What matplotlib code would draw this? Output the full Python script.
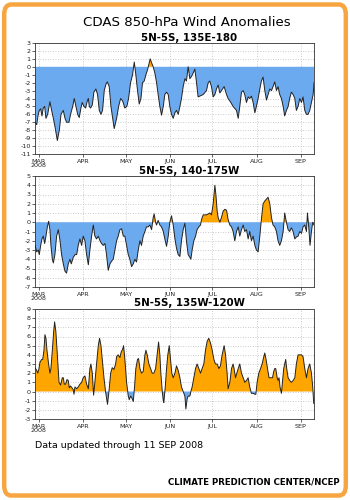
import datetime as dt
import numpy as np
import matplotlib
matplotlib.use("Agg")
import matplotlib.pyplot as plt
from matplotlib.patches import FancyBboxPatch

plt.rcParams['axes.unicode_minus'] = False
plt.rcParams['font.family'] = ['DejaVu Sans']

# ---------------- data (day offsets from 1 MAR 2008, anomaly m/s) ----------------
title = "CDAS 850-hPa Wind Anomalies"
subtitles = ["5N-5S, 135E-180", "5N-5S, 140-175W", "5N-5S, 135W-120W"]
month_labels = ["MAR\n2008", "APR", "MAY", "JUN", "JUL", "AUG", "SEP"]
month_numbers = [3, 4, 5, 6, 7, 8, 9]
x_range = (-2.8, 193.4)
y_ranges = [(-11, 3), (-7, 5), (-3, 9)]

p1_days = [-2.8, -1.6, -0.5, 0.2, 1.2, 2.1, 3.0, 4.0, 4.9, 6.1, 7.7, 8.9, 10.1, 11.2, 12.9,
           14.3, 15.5, 17.1, 18.3, 19.4, 21.1, 22.2, 23.7, 24.8, 26.0, 27.2, 28.3, 29.5,
           30.4, 31.6, 32.8, 34.0, 34.7, 35.4, 36.3, 37.5, 38.6, 40.0, 41.2, 42.4, 43.6,
           44.7, 45.9, 47.1, 48.0, 49.4, 50.6, 51.8, 52.9, 54.6, 56.0, 57.4, 58.8, 60.4,
           61.8, 63.0, 64.4, 65.8, 67.0, 68.1, 69.3, 70.5, 71.7, 72.8, 74.0, 75.2, 76.3,
           77.5, 78.2, 79.2, 80.3, 81.5, 82.7, 83.8, 85.0, 86.2, 87.4, 88.5, 89.7, 90.9,
           92.0, 93.2, 94.4, 95.6, 96.7, 97.9, 99.1, 100.2, 101.4, 102.6, 103.7, 104.9,
           106.1, 107.3, 108.4, 109.6, 110.8, 111.9, 113.1, 115.5, 117.8, 119.0, 120.1,
           121.3, 122.5, 123.7, 124.8, 126.0, 127.2, 128.3, 130.2, 131.9, 133.0, 134.9,
           136.5, 138.9, 140.1, 141.2, 142.4, 143.6, 144.7, 145.9, 147.1, 148.2, 149.4,
           150.6, 151.8, 152.9, 154.1, 155.3, 156.4, 157.6, 158.8, 160.0, 161.1, 162.3,
           163.5, 164.6, 165.8, 167.0, 168.1, 169.3, 170.5, 171.7, 172.8, 174.0, 175.2,
           176.3, 177.5, 178.7, 179.9, 181.0, 182.2, 183.4, 184.6, 185.7, 186.9, 188.1,
           189.2, 190.4, 191.6, 192.8, 193.4]
p1_vals = [-7.0, -7.3, -6.0, -5.5, -5.3, -6.2, -5.2, -5.0, -6.5, -6.0, -4.4, -5.5, -6.5, -7.5, -9.3,
           -8.0, -6.0, -5.5, -6.5, -7.0, -7.0, -6.0, -5.0, -4.0, -5.0, -6.0, -6.4, -5.2,
           -4.5, -5.0, -5.2, -4.3, -4.0, -5.0, -5.2, -4.8, -3.2, -2.8, -3.5, -5.5, -6.0,
           -5.5, -3.0, -2.2, -1.9, -2.5, -5.0, -6.5, -7.8, -6.5, -5.0, -4.0, -4.3, -5.2,
           -5.0, -4.0, -2.0, -1.0, 0.6, -1.0, -3.0, -4.7, -4.0, -2.0, -1.8, -1.0, -0.4,
           0.5, 1.0, 0.5, 0.0, -0.8, -2.0, -3.5, -5.0, -6.1, -5.0, -3.5, -3.2, -3.5,
           -5.0, -6.0, -6.5, -5.8, -5.5, -6.0, -5.0, -4.0, -2.5, -1.5, -1.8, 0.0,
           -1.5, -1.2, -0.8, -0.3, -2.0, -3.8, -3.7, -3.5, -3.0, -2.0, -1.8,
           -2.5, -3.8, -3.5, -2.8, -2.3, -3.3, -3.0, -2.5, -3.5, -4.0, -4.5,
           -5.0, -5.5, -6.5, -5.0, -3.2, -3.0, -3.5, -4.5, -3.8, -4.0, -3.7,
           -4.5, -5.8, -5.0, -4.0, -2.8, -1.8, -1.3, -3.0, -4.2, -3.5, -2.8,
           -3.0, -2.5, -1.9, -3.0, -2.5, -3.5, -4.0, -5.0, -6.2, -5.5, -5.0,
           -4.0, -3.2, -3.5, -4.0, -5.5, -5.0, -4.0, -4.5, -3.8, -5.5, -6.0,
           -6.0, -5.5, -4.5, -3.5, -2.0]

p2_days = [-2.8, -1.6, -0.5, 0.2, 1.2, 2.1, 3.0, 4.0, 4.9, 5.9, 6.8, 7.7, 8.4, 9.4, 10.1,
           11.2, 12.4, 13.6, 14.8, 15.9, 17.1, 18.3, 19.4, 20.6, 21.8, 22.7, 24.1, 25.3,
           26.5, 27.6, 28.8, 30.0, 31.1, 32.3, 33.5, 34.7, 35.8, 37.0, 38.2, 39.3, 40.5,
           41.7, 42.9, 44.0, 45.2, 46.4, 47.5, 48.7, 49.9, 51.1, 52.2, 53.4, 54.6, 55.7,
           56.9, 58.1, 59.3, 60.4, 61.6, 62.8, 63.9, 65.1, 66.3, 67.4, 68.6, 69.8, 71.0,
           72.1, 73.3, 74.5, 75.6, 76.8, 78.0, 79.2, 80.3, 81.0, 82.0, 82.7, 83.8, 85.0,
           86.2, 87.4, 88.5, 89.7, 90.9, 92.0, 93.2, 94.4, 95.6, 96.7, 97.9, 99.1, 100.2,
           101.4, 102.6, 103.7, 104.9, 106.1, 106.8, 107.7, 108.9, 110.1, 111.2, 112.4,
           113.6, 114.3, 115.5, 116.6, 117.8, 119.0, 120.1, 121.3, 122.5, 123.7, 124.4,
           125.3, 126.0, 127.2, 128.3, 129.5, 130.7, 131.9, 133.0, 134.2, 135.4, 136.5,
           137.7, 138.9, 140.1, 141.2, 142.4, 143.6, 144.7, 145.9, 147.1, 148.2, 149.4,
           150.6, 151.8, 152.9, 154.1, 155.3, 156.4, 157.6, 158.8, 160.0, 161.1, 162.3,
           163.5, 164.6, 165.8, 167.0, 168.1, 169.3, 170.5, 171.7, 172.8, 174.0, 175.2,
           176.3, 177.5, 178.7, 179.9, 181.0, 182.2, 183.4, 184.6, 185.7, 186.9, 188.1,
           188.8, 189.7, 190.6, 191.6, 192.5, 193.4]
p2_vals = [-2.5, -3.2, -3.0, -3.5, -2.5, -1.8, -1.5, -2.3, -1.5, -0.5, 0.1, -0.8, -2.5, -4.0, -4.4,
           -3.5, -1.5, -0.8, -2.0, -3.5, -4.5, -5.3, -5.5, -4.5, -4.0, -4.5, -3.8, -3.5,
           -3.5, -2.5, -1.8, -2.5, -1.5, -2.0, -3.5, -4.6, -3.0, -1.5, -0.3, -1.5, -1.8,
           -1.5, -2.0, -2.3, -2.5, -2.3, -3.5, -5.2, -4.5, -4.2, -4.0, -3.0, -2.0, -1.5,
           -0.8, -0.7, -1.5, -1.5, -2.5, -3.5, -4.0, -4.8, -4.5, -4.0, -4.3, -3.0, -2.0,
           -2.5, -1.5, -1.0, -0.5, -0.5, -0.3, -0.8, 0.5, 0.9, 0.0, -0.3, 0.2, -0.3,
           -0.5, -1.0, -1.8, -2.6, -1.5, 0.0, 0.7, -0.3, -1.8, -2.8, -3.5, -3.7, -2.0,
           -0.8, -0.1, -2.0, -3.5, -3.8, -4.0, -3.0, -2.0, -1.5, -0.8, -0.5,
           -0.3, 0.3, 0.8, 0.8, 0.8, 0.9, 1.0, 0.8, 2.0, 4.0, 3.0,
           1.2, 0.5, 0.0, 0.5, 1.2, 1.4, 1.3, 0.3, -0.3, -0.5, -1.0,
           -2.0, -1.0, -0.5, -1.5, -0.8, -0.3, -1.0, -0.8, -1.8, -1.0, -2.0,
           -1.5, -2.5, -3.0, -3.2, -1.5, 0.3, 2.0, 2.3, 2.5, 2.7, 2.0,
           0.5, -0.3, -0.5, -1.0, -2.0, -2.5, -2.0, -1.0, 1.0, 0.0, -0.8,
           -1.0, -0.6, -1.0, -1.8, -1.6, -1.5, -1.0, -1.2, -0.5, -0.3, -1.0,
           1.0, -0.5, -2.5, -1.0, 0.0, -0.3]

p3_days = [-2.8, -1.6, -0.9, 0.0, 0.7, 1.9, 2.6, 3.5, 4.2, 4.9, 5.6, 6.6, 7.7, 8.4, 9.4, 10.3,
           11.0, 11.9, 12.9, 14.1, 15.2, 16.4, 17.1, 17.8, 18.7, 19.7, 20.6, 21.3, 22.2,
           23.2, 24.1, 24.6, 25.3, 26.5, 27.6, 28.8, 30.0, 31.1, 32.3, 33.5, 34.7, 35.8,
           36.5, 37.5, 38.4, 39.3, 40.5, 41.7, 42.6, 43.6, 44.5, 45.7, 46.8, 47.8, 48.2,
           49.2, 50.4, 51.5, 52.7, 53.9, 54.6, 55.7, 56.9, 57.8, 58.8, 59.5, 60.4, 61.6,
           62.8, 63.5, 64.4, 65.3, 66.3, 67.2, 68.1, 69.3, 70.0, 71.0, 72.1, 73.3, 74.5,
           75.2, 76.1, 77.3, 78.5, 79.6, 80.8, 82.0, 83.1, 84.1, 85.0, 85.7, 86.7, 87.4,
           87.8, 88.8, 89.7, 90.6, 91.6, 92.5, 93.4, 94.4, 95.6, 96.7, 97.9, 99.1, 100.2,
           101.4, 102.6, 103.3, 104.2, 104.9, 106.1, 106.8, 107.7, 108.9, 110.1, 111.2,
           112.4, 113.6, 114.7, 115.9, 117.1, 118.3, 119.4, 120.6, 121.8, 123.0, 124.1,
           125.3, 126.5, 127.6, 128.8, 130.2, 131.2, 132.3, 133.0, 134.2, 135.4, 136.5,
           137.2, 138.2, 139.1, 140.1, 141.2, 142.4, 143.6, 144.7, 145.9, 147.1, 148.2,
           149.4, 150.6, 151.8, 152.5, 153.4, 154.6, 155.8, 156.9, 158.1, 158.8, 159.7,
           160.7, 161.8, 163.0, 164.2, 165.1, 165.8, 166.5, 167.5, 168.1, 168.8, 169.5,
           170.5, 171.2, 172.1, 172.8, 173.5, 174.2, 175.2, 176.3, 177.5, 178.7, 179.9,
           181.0, 182.2, 183.4, 184.6, 185.7, 186.9, 188.1, 189.2, 190.4, 191.6, 192.5,
           193.2]
p3_vals = [2.6, 2.3, 2.0, 2.5, 3.2, 3.5, 3.5, 4.5, 6.2, 5.8, 4.5, 3.2, 2.0, 2.5, 4.5, 6.5,
           7.6, 6.5, 4.0, 1.0, 0.7, 1.5, 1.5, 0.8, 0.8, 1.3, 1.2, 0.4, 0.6,
           0.4, 0.2, -0.3, 0.5, 0.3, 0.5, 0.8, 1.0, 1.5, 1.7, 0.8, 0.3, 2.5,
           3.0, 2.0, -0.4, 1.0, 3.0, 5.0, 5.8, 5.0, 3.5, 1.5, 0.0, -1.0, -1.4,
           0.0, 2.0, 2.6, 2.4, 3.0, 3.8, 4.0, 3.7, 4.3, 4.6, 5.0, 3.5, 1.0,
           -0.5, -0.9, -0.5, -0.7, -1.1, 0.5, 2.5, 3.5, 3.6, 2.5, 2.0, 2.2, 4.0,
           4.5, 4.0, 3.0, 2.5, 2.0, 2.0, 2.5, 4.0, 5.4, 4.0, 2.0, 0.0, -1.0,
           -1.2, 0.5, 2.5, 4.0, 5.0, 3.5, 2.0, 1.5, 2.0, 2.8, 2.3, 1.5, 0.5,
           0.0, -0.5, -1.9, -0.8, -0.5, -0.5, 0.0, 0.5, 1.5, 2.5, 3.0,
           2.5, 2.0, 2.5, 3.0, 4.5, 5.5, 5.8, 5.3, 4.5, 3.5, 3.0,
           3.0, 2.5, 2.8, 4.0, 5.0, 4.0, 2.0, 0.3, 1.0, 2.5, 3.0,
           2.5, 1.5, 2.0, 2.5, 3.0, 2.0, 1.5, 1.0, 1.2, 1.5, 0.5,
           -0.2, -0.2, -0.3, -0.3, 1.0, 2.0, 2.5, 3.0, 3.8, 4.2, 3.5,
           2.5, 1.5, 1.5, 1.5, 2.2, 2.5, 2.5, 1.5, 1.2, 1.5, 0.5,
           -0.2, 1.0, 2.5, 3.0, 3.5, 2.5, 1.5, 1.2, 1.0, 1.2, 1.5,
           3.0, 4.0, 4.0, 4.0, 3.8, 2.5, 1.5, 2.5, 3.0, 2.0, 0.5,
           -1.3]

series_days = [p1_days, p2_days, p3_days]
series_vals = [p1_vals, p2_vals, p3_vals]

# ---------------- styling ----------------
POS_COLOR = "#FFA500"
NEG_COLOR = "#6CAAF0"
BORDER_COLOR = "#F7A540"

W, H = 350, 500
fig = plt.figure(figsize=(W / 100, H / 100), dpi=100)
fig.patch.set_facecolor("white")

# orange rounded frame
frame = FancyBboxPatch((0.012, 0.009), 0.976, 0.982,
                       boxstyle="round,pad=0,rounding_size=0.02",
                       transform=fig.transFigure, facecolor="white",
                       edgecolor=BORDER_COLOR, linewidth=3.2, zorder=-10)
fig.patches.append(frame)

# axes boxes in pixels: (left, top, right, bottom)
boxes = [(35, 43, 314, 154), (35, 176, 314, 287), (35, 309, 314, 419)]
sub_y = [38, 171, 303]

base = dt.date(2008, 3, 1)
month_pos = [(dt.date(2008, m, 1) - base).days for m in month_numbers]

for i, (l, t, r, b) in enumerate(boxes):
    ax = fig.add_axes([l / W, 1 - b / H, (r - l) / W, (b - t) / H])
    d = np.array(series_days[i])
    v = np.array(series_vals[i])
    ax.fill_between(d, v, 0, where=v >= 0, interpolate=True, color=POS_COLOR,
                    linewidth=0, zorder=2)
    ax.fill_between(d, v, 0, where=v <= 0, interpolate=True, color=NEG_COLOR,
                    linewidth=0, zorder=2)
    ax.plot(d, v, color="#222222", linewidth=0.7, zorder=3)
    ax.set_xlim(*x_range)
    lo, hi = y_ranges[i]
    ax.set_ylim(lo, hi)
    ax.set_yticks(np.arange(lo, hi + 1, 1))
    ax.set_xticks(month_pos)
    ax.set_xticklabels(month_labels)
    ax.tick_params(axis="both", labelsize=4.6, length=2, width=0.5,
                   colors="#222222", pad=1)
    ax.tick_params(axis="x", pad=1.5)
    for lab in ax.get_xticklabels():
        lab.set_linespacing(0.9)
    ax.grid(True, linestyle=(0, (1, 2)), color="#bbbbbb", linewidth=0.6, zorder=0)
    ax.set_axisbelow(True)
    for s in ax.spines.values():
        s.set_linestyle((0, (2, 1)))
        s.set_linewidth(0.6)
        s.set_color("#333333")
    fig.text(189 / W, 1 - sub_y[i] / H, subtitles[i], ha="center", va="center",
             fontsize=7.4, fontweight="bold")

fig.text(187 / W, 1 - 22 / H, title, ha="center", va="center", fontsize=9.6)
fig.text(35 / W, 1 - 446 / H, "Data updated through 11 SEP 2008", ha="left",
         va="center", fontsize=6.8)
fig.text(340 / W, 1 - 482 / H, "CLIMATE PREDICTION CENTER/NCEP", ha="right",
         va="center", fontsize=6.2, fontweight="bold")

fig.savefig("out.png", dpi=100, facecolor="white")
